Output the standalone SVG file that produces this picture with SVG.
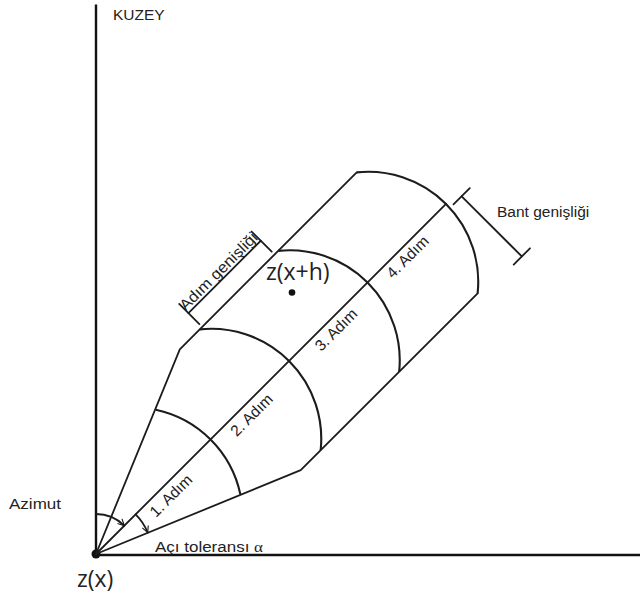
<svg xmlns="http://www.w3.org/2000/svg" width="640" height="599" viewBox="0 0 640 599">
<style>
.ln{fill:none;stroke:#1c1c1c;stroke-width:1.8;stroke-linecap:round;stroke-linejoin:round}
.arc{fill:none;stroke:#1c1c1c;stroke-width:2.1}
.ax{fill:none;stroke:#111;stroke-width:2.4}
.t{font-family:"Liberation Sans",Arial,sans-serif;font-size:15.5px;fill:#222}
.z{font-family:"Open Sans","DejaVu Sans",sans-serif;font-size:23px;fill:#222}
</style>
<defs>
<marker id="ar" viewBox="0 0 10 10" refX="9" refY="5" markerWidth="8" markerHeight="8" markerUnits="userSpaceOnUse" orient="auto">
<path d="M1,1 L9,5 L1,9" fill="none" stroke="#1c1c1c" stroke-width="1.4"/>
</marker>
</defs>
<rect width="640" height="599" fill="#fff"/>
<g id="axes">
<line class="ax" x1="96" y1="4.5" x2="96" y2="555"/>
<line class="ax" x1="96" y1="555" x2="640" y2="555"/>
<circle cx="96" cy="554" r="4.5" fill="#111"/>
</g>
<g id="connectors" transform="translate(96,554) rotate(-45)">
<path class="ln" d="M0,0 L204,-85.5 L454.2,-85.5"/>
<path class="ln" d="M0,0 L204,85.5 L454.2,85.5"/>
<line class="ln" x1="0" y1="0" x2="495" y2="0"/>
<path class="arc" d="M144.34,-59.79 A110,110 0 0,1 144.34,59.79"/>
<path class="arc" d="M232.21,-85.5 A110,110 0 0,1 232.21,85.5"/>
<path class="arc" d="M343.21,-85.5 A110,110 0 0,1 343.21,85.5"/>
<path class="arc" d="M454.21,-85.5 A110,110 0 0,1 454.21,85.5"/>
<g id="adim-genisligi-bracket">
<line class="ln" x1="235.7" y1="-105" x2="338" y2="-105"/>
<line class="ln" x1="235.7" y1="-118" x2="235.7" y2="-89.5"/>
<line class="ln" x1="338" y1="-118" x2="338" y2="-89.5"/>
</g>
<g id="bant-genisligi-bracket">
<line class="ln" x1="511.5" y1="5.6" x2="511.5" y2="90.7"/>
<line class="ln" x1="500" y1="5.6" x2="523" y2="5.6"/>
<line class="ln" x1="500" y1="90.7" x2="523" y2="90.7"/>
</g>
<text class="t" x="68" y="17">1. Adım</text>
<text class="t" x="182" y="17">2. Adım</text>
<text class="t" x="302" y="16.5">3. Adım</text>
<text class="t" x="404" y="15.5">4. Adım</text>
<text class="t" x="235" y="-108" textLength="103" lengthAdjust="spacingAndGlyphs">Adım genişliği</text>
</g>
<g id="angles">
<path class="ln" d="M96,514 A40,40 0 0,1 124.28,525.72" marker-end="url(#ar)"/>
<path class="ln" d="M135.6,514.4 A56,56 0 0,1 147.74,532.57" marker-end="url(#ar)"/>
</g>
<g id="point-zxh">
<circle cx="292" cy="292.5" r="3.3" fill="#111"/>
<text class="z" x="266" y="280">z(x+h)</text>
</g>
<g id="labels">
<text class="t" x="113" y="20" font-size="15">KUZEY</text>
<text class="t" x="497" y="216.5">Bant genişliği</text>
<text class="t" x="9" y="509" textLength="52" lengthAdjust="spacingAndGlyphs">Azimut</text>
<text class="t" x="155" y="551.5" textLength="108" lengthAdjust="spacingAndGlyphs">Açı toleransı <tspan font-family="Liberation Serif, serif">α</tspan></text>
<text class="z" x="77" y="587">z(x)</text>
</g>
</svg>
